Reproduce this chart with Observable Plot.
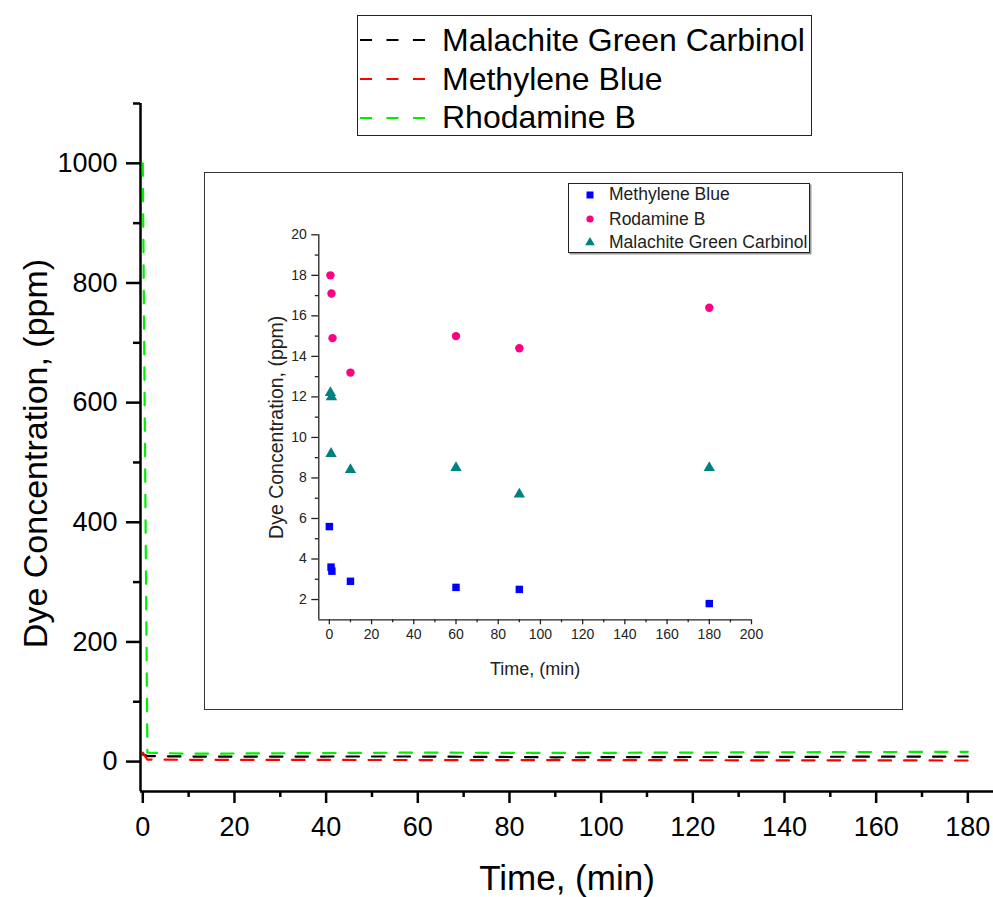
<!DOCTYPE html>
<html>
<head>
<meta charset="utf-8">
<script src="https://cdn.jsdelivr.net/npm/d3@7"></script>
<script src="https://cdn.jsdelivr.net/npm/@observablehq/plot@0.6"></script>
<style>
  body { margin: 0; background: #fff; font-family: "Liberation Sans", Arial, sans-serif; }
  #wrap { position: relative; width: 993px; height: 897px; overflow: hidden; background: #fff; }
  #wrap svg { position: absolute; }
  .legend { position: absolute; box-sizing: border-box; background: #fff; }
  .legend .row { position: absolute; left: 0; display: flex; align-items: center; white-space: nowrap; }
</style>
</head>
<body>
<div id="wrap"></div>
<script>
// ---------- main chart data ----------
const mainTime = [0, 1, 10, 60, 90, 180];
const mainMG = [12.1, 9.2, 8.4, 8.5, 7.2, 8.5];
const mainMB = [15.0, 3.4, 2.9, 2.6, 2.5, 1.8];
const mainRB = [1000, 14.9, 13.2, 15.0, 14.4, 16.4];
const mainNames = ["Malachite Green Carbinol", "Methylene Blue", "Rhodamine B"];
const mainColors = ["#000000", "#ff0000", "#00ee00"];
const mainXTicks = [0, 20, 40, 60, 80, 100, 120, 140, 160, 180];
const mainXMinor = [10, 30, 50, 70, 90, 110, 130, 150, 170];
const mainYTicks = [0, 200, 400, 600, 800, 1000];
const mainYMinor = [100, 300, 500, 700, 900, 1100];
const mainXDomain = [-0.5, 185.6];
const mainYDomain = [-50, 1100];

// ---------- inset data ----------
const mbTime = [0, 0.8, 1.2, 10, 60, 90, 180];
const mbConc = [5.6, 3.6, 3.4, 2.9, 2.6, 2.5, 1.8];
const rbTime = [0.5, 1, 1.5, 10, 60, 90, 180];
const rbConc = [18.0, 17.1, 14.9, 13.2, 15.0, 14.4, 16.4];
const mgTime = [0.5, 1, 0.8, 10, 60, 90, 180];
const mgConc = [12.2, 12.0, 9.2, 8.4, 8.5, 7.2, 8.5];
const insetNames = ["Methylene Blue", "Rodamine B", "Malachite Green Carbinol"];
const insetColors = ["#0000ff", "#ff0080", "#008080"];
const insetSymbols = ["square", "circle", "triangle"];
const insetXTicks = [0, 20, 40, 60, 80, 100, 120, 140, 160, 180, 200];
const insetXMinor = [10, 30, 50, 70, 90, 110, 130, 150, 170, 190];
const insetYTicks = [2, 4, 6, 8, 10, 12, 14, 16, 18, 20];
const insetYMinor = [3, 5, 7, 9, 11, 13, 15, 17, 19];
const insetXDomain = [-5, 200];
const insetYDomain = [1, 20];

const FONT = '"Liberation Sans", Arial, sans-serif';
const plain = d => String(d);
const wrap = document.getElementById("wrap");

// ---------- main plot ----------
const mainValues = [mainMG, mainMB, mainRB];
const mainData = mainNames.flatMap((name, k) =>
  mainTime.map((t, i) => ({ series: name, t, c: mainValues[k][i] })));

const mainPlot = Plot.plot({
  width: 993, height: 897,
  marginLeft: 140, marginRight: 0, marginTop: 103, marginBottom: 106,
  x: { domain: mainXDomain },
  y: { domain: mainYDomain },
  color: { domain: mainNames, range: mainColors },
  style: { fontFamily: FONT, color: "#000", background: "transparent", overflow: "visible" },
  marks: [
    Plot.axisX({ ticks: mainXTicks, tickFormat: plain, tickSize: 12, tickPadding: 13, fontSize: 27, strokeWidth: 2.5, label: null }),
    Plot.axisX({ ticks: mainXMinor, tickSize: 6, tickFormat: () => "", strokeWidth: 2.5, label: null }),
    Plot.axisY({ ticks: mainYTicks, tickFormat: plain, tickSize: 14, tickPadding: 9, fontSize: 27, strokeWidth: 2.5, label: null }),
    Plot.axisY({ ticks: mainYMinor, tickSize: 7, tickFormat: () => "", strokeWidth: 2.5, label: null }),
    Plot.ruleX([mainXDomain[0]], { strokeWidth: 2.5, stroke: "#000" }),
    Plot.ruleY([mainYDomain[0]], { strokeWidth: 2.5, stroke: "#000" }),
    Plot.line(mainData, { x: "t", y: "c", z: "series", stroke: "series",
      strokeWidth: 2.2, strokeDasharray: "12.5,13", curve: "linear" }),
    Plot.text(["Time, (min)"], { text: d => d, frameAnchor: "bottom", dy: 87,
      fontSize: 35, lineAnchor: "middle", textAnchor: "middle", fill: "#000" }),
    Plot.text(["Dye Concentration, (ppm)"], { text: d => d, frameAnchor: "left",
      rotate: -90, dx: -104, dy: 6, fontSize: 34, lineAnchor: "middle", textAnchor: "middle", fill: "#000" })
  ]
});
mainPlot.style.left = "0px";
mainPlot.style.top = "0px";
wrap.appendChild(mainPlot);

// ---------- main legend ----------
const mainLeg = document.createElement("div");
mainLeg.className = "legend";
Object.assign(mainLeg.style, { left: "357px", top: "15px", width: "455px", height: "121px",
  border: "1.5px solid #222" });
const mainRowY = [24.3, 63.3, 101.7];
mainNames.forEach((name, i) => {
  const row = document.createElement("div");
  row.className = "row";
  Object.assign(row.style, { top: (mainRowY[i] - 20) + "px", height: "40px" });
  row.innerHTML =
    `<svg width="84" height="40" style="position:static"><line x1="2" x2="70" y1="20" y2="20" stroke="${mainColors[i]}" stroke-width="2" stroke-dasharray="12,14.5"/></svg>` +
    `<span style="font-size:32px;color:#000;">${name}</span>`;
  mainLeg.appendChild(row);
});
wrap.appendChild(mainLeg);

// ---------- inset plot ----------
const insetTimes = [mbTime, rbTime, mgTime];
const insetConcs = [mbConc, rbConc, mgConc];
const insetData = insetNames.flatMap((name, k) =>
  insetTimes[k].map((t, i) => ({ series: name, t, c: insetConcs[k][i] })));

const insetPlot = Plot.plot({
  width: 699, height: 538,
  marginLeft: 114.3, marginRight: 152, marginTop: 62.3, marginBottom: 90.7,
  x: { domain: insetXDomain },
  y: { domain: insetYDomain },
  color: { domain: insetNames, range: insetColors },
  symbol: { domain: insetNames, range: insetSymbols },
  style: { fontFamily: FONT, color: "#222", background: "#fff", overflow: "visible" },
  marks: [
    Plot.axisX({ ticks: insetXTicks, tickFormat: plain, tickSize: 5, tickPadding: 4, fontSize: 14, strokeWidth: 1.3, label: null }),
    Plot.axisX({ ticks: insetXMinor, tickSize: 3, tickFormat: () => "", strokeWidth: 1.3, label: null }),
    Plot.axisY({ ticks: insetYTicks, tickFormat: plain, tickSize: 7, tickPadding: 5, fontSize: 14, strokeWidth: 1.3, label: null }),
    Plot.axisY({ ticks: insetYMinor, tickSize: 3.5, tickFormat: () => "", strokeWidth: 1.3, label: null }),
    Plot.ruleX([insetXDomain[0]], { strokeWidth: 1.3, stroke: "#222" }),
    Plot.ruleY([insetYDomain[0]], { strokeWidth: 1.3, stroke: "#222" }),
    Plot.dot(insetData, { x: "t", y: "c", symbol: "series", fill: "series", stroke: "none", r: 4.2 }),
    Plot.text(["Time, (min)"], { text: d => d, frameAnchor: "bottom", dy: 49,
      fontSize: 18, lineAnchor: "middle", textAnchor: "middle", fill: "#222" }),
    Plot.text(["Dye Concentration, (ppm)"], { text: d => d, frameAnchor: "left",
      rotate: -90, dx: -42, fontSize: 19.5, lineAnchor: "middle", textAnchor: "middle", fill: "#222" })
  ]
});
insetPlot.style.left = "204px";
insetPlot.style.top = "172px";
insetPlot.style.outline = "1.5px solid #333";
insetPlot.style.outlineOffset = "-1px";
wrap.appendChild(insetPlot);

// ---------- inset legend ----------
const insetLeg = document.createElement("div");
insetLeg.className = "legend";
Object.assign(insetLeg.style, { left: "568px", top: "183px", width: "242px", height: "70px",
  border: "1px solid #222", boxShadow: "1.5px 1.5px 0 #999" });
const insetRowY = [10.7, 35, 58.4];
const symPaths = {
  square: c => `<rect x="17.5" y="8.5" width="7" height="7" fill="${c}"/>`,
  circle: c => `<circle cx="21" cy="12" r="3.6" fill="${c}"/>`,
  triangle: c => `<path d="${d3.symbol(d3.symbolTriangle, 40)()}" transform="translate(21,12.5)" fill="${c}"/>`
};
insetNames.forEach((name, i) => {
  const row = document.createElement("div");
  row.className = "row";
  Object.assign(row.style, { top: (insetRowY[i] - 12) + "px", height: "24px" });
  row.innerHTML =
    `<svg width="40" height="24" style="position:static">${symPaths[insetSymbols[i]](insetColors[i])}</svg>` +
    `<span style="font-size:17.5px;color:#222;">${name}</span>`;
  insetLeg.appendChild(row);
});
wrap.appendChild(insetLeg);
</script>
</body>
</html>
